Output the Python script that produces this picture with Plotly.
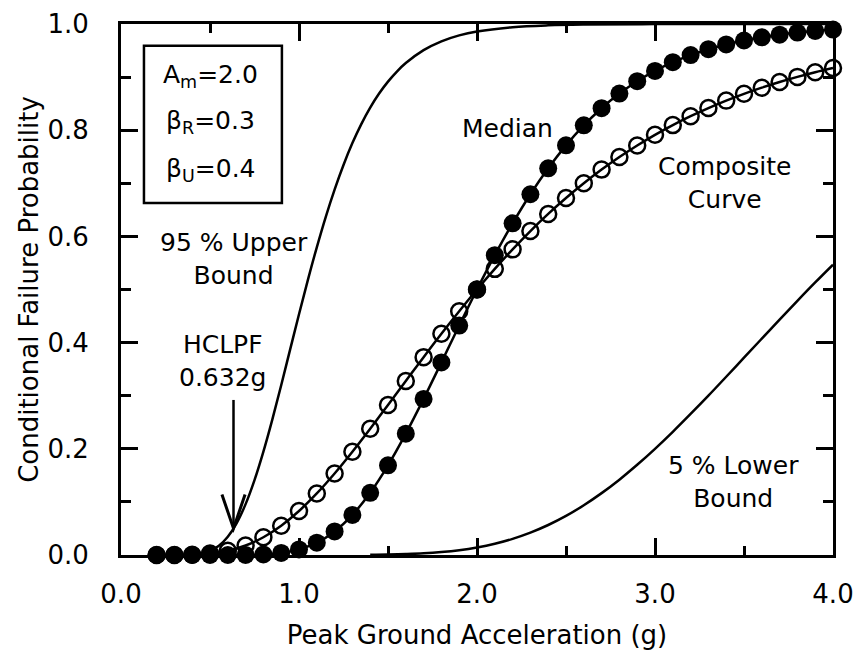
import plotly.graph_objects as go

# Peak ground acceleration (g) at which the marker curves are drawn
pga = [0.2, 0.3, 0.4, 0.5, 0.6, 0.7, 0.8, 0.9, 1.0, 1.1, 1.2, 1.3, 1.4, 1.5,
       1.6, 1.7, 1.8, 1.9, 2.0, 2.1, 2.2, 2.3, 2.4, 2.5, 2.6, 2.7, 2.8, 2.9,
       3.0, 3.1, 3.2, 3.3, 3.4, 3.5, 3.6, 3.7, 3.8, 3.9, 4.0]

median = [0.0, 0.0, 0.0, 0.0, 0.0, 0.0002, 0.0011, 0.0039, 0.0104, 0.0231,
          0.0443, 0.0755, 0.1172, 0.1688, 0.2285, 0.2940, 0.3627, 0.4321,
          0.5000, 0.5646, 0.6246, 0.6794, 0.7283, 0.7715, 0.8091, 0.8414,
          0.8690, 0.8923, 0.9117, 0.9280, 0.9414, 0.9525, 0.9615, 0.9689,
          0.9750, 0.9798, 0.9838, 0.9870, 0.9896]

composite = [0.0, 0.0001, 0.0006, 0.0028, 0.0080, 0.0179, 0.0334, 0.0551,
             0.0828, 0.1159, 0.1535, 0.1945, 0.2378, 0.2825, 0.3277, 0.3726,
             0.4166, 0.4591, 0.5000, 0.5389, 0.5756, 0.6101, 0.6423, 0.6723,
             0.7001, 0.7258, 0.7495, 0.7713, 0.7913, 0.8096, 0.8264, 0.8417,
             0.8557, 0.8685, 0.8801, 0.8907, 0.9004, 0.9092, 0.9172]

upper_x = [0.4, 0.45, 0.5, 0.55, 0.6, 0.65, 0.7, 0.75, 0.8, 0.85, 0.9, 0.95,
           1.0, 1.05, 1.1, 1.15, 1.2, 1.25, 1.3, 1.35, 1.4, 1.45, 1.5, 1.55,
           1.6, 1.7, 1.8, 1.9, 2.0, 2.2, 2.4, 2.6, 3.0, 3.5, 4.0]
upper_y = [0.0008, 0.0027, 0.0076, 0.0174, 0.0344, 0.0602, 0.0958, 0.1410,
           0.1947, 0.2550, 0.3198, 0.3867, 0.4534, 0.5182, 0.5795, 0.6365,
           0.6882, 0.7346, 0.7757, 0.8115, 0.8425, 0.8690, 0.8915, 0.9105,
           0.9264, 0.9507, 0.9673, 0.9785, 0.9859, 0.9940, 0.9975, 0.9989,
           0.9998, 1.0, 1.0]

lower_x = [1.4, 1.5, 1.6, 1.7, 1.8, 1.9, 2.0, 2.1, 2.2, 2.3, 2.4, 2.5, 2.6,
           2.7, 2.8, 2.9, 3.0, 3.1, 3.2, 3.3, 3.4, 3.5, 3.6, 3.7, 3.8, 3.9, 4.0]
lower_y = [0.0004, 0.0008, 0.0017, 0.0031, 0.0055, 0.0090, 0.0141, 0.0211,
           0.0304, 0.0421, 0.0565, 0.0736, 0.0937, 0.1165, 0.1419, 0.1699,
           0.2000, 0.2320, 0.2656, 0.3001, 0.3357, 0.3716, 0.4075, 0.4433,
           0.4786, 0.5132, 0.5467]

x_ticks = [0.0, 1.0, 2.0, 3.0, 4.0]
x_tick_text = ["0.0", "1.0", "2.0", "3.0", "4.0"]
y_ticks = [0.0, 0.2, 0.4, 0.6, 0.8, 1.0]
y_tick_text = ["0.0", "0.2", "0.4", "0.6", "0.8", "1.0"]

hclpf = 0.632
hclpf_prob = 0.05

FONT = "DejaVu Sans"
BLACK = "#000000"
LW = 2.5

fig = go.Figure()

fig.add_trace(go.Scatter(x=upper_x, y=upper_y, mode="lines",
                         line=dict(color=BLACK, width=LW, shape="spline"),
                         cliponaxis=False, showlegend=False))
fig.add_trace(go.Scatter(x=lower_x, y=lower_y, mode="lines",
                         line=dict(color=BLACK, width=LW, shape="spline"),
                         cliponaxis=False, showlegend=False))
fig.add_trace(go.Scatter(x=pga, y=composite, mode="lines+markers",
                         line=dict(color=BLACK, width=LW, shape="spline"),
                         marker=dict(symbol="circle-open", size=16,
                                     color=BLACK, line=dict(width=2.5, color=BLACK)),
                         cliponaxis=False, showlegend=False))
fig.add_trace(go.Scatter(x=pga, y=median, mode="lines+markers",
                         line=dict(color=BLACK, width=LW, shape="spline"),
                         marker=dict(symbol="circle", size=18, color=BLACK),
                         cliponaxis=False, showlegend=False))

# Parameter box
fig.add_shape(type="rect", xref="x", yref="y", x0=0.129, x1=0.904,
              y0=0.663, y1=0.959, line=dict(color=BLACK, width=2.5),
              fillcolor="rgba(0,0,0,0)")

ann_font = dict(family=FONT, size=25, color=BLACK)
box_lines = [("A<sub>m</sub>=2.0", 0.903), ("β<sub>R</sub>=0.3", 0.815),
             ("β<sub>U</sub>=0.4", 0.725)]
for txt, yy in box_lines:
    fig.add_annotation(x=0.503, y=yy, xref="x", yref="y", text=txt,
                       showarrow=False, font=ann_font,
                       xanchor="center", yanchor="middle")

labels = [
    ("95 % Upper<br>Bound", 0.635, 0.557),
    ("HCLPF<br>0.632g", 0.573, 0.366),
    ("Median", 2.169, 0.804),
    ("Composite<br>Curve", 3.390, 0.700),
    ("5 % Lower<br>Bound", 3.441, 0.1375),
]
for txt, xx, yy in labels:
    fig.add_annotation(x=xx, y=yy, xref="x", yref="y", text=txt,
                       showarrow=False, font=ann_font, align="center",
                       xanchor="center", yanchor="middle")

# HCLPF arrow: shaft and a narrow open V head ending at (hclpf, hclpf_prob)
shaft_top = 0.292
head_dx = 0.065
head_dy = 0.064
fig.add_shape(type="line", xref="x", yref="y", x0=hclpf, x1=hclpf,
              y0=shaft_top, y1=hclpf_prob, line=dict(color=BLACK, width=2.5))
fig.add_shape(type="path", xref="x", yref="y",
              path=(f"M {hclpf - head_dx},{hclpf_prob + head_dy} "
                    f"L {hclpf},{hclpf_prob} "
                    f"L {hclpf + head_dx},{hclpf_prob + head_dy}"),
              line=dict(color=BLACK, width=3))

axis_common = dict(showgrid=False, zeroline=False, showline=True,
                   linecolor=BLACK, linewidth=3, mirror="ticks",
                   ticks="inside", tickcolor=BLACK, tickwidth=2.5, ticklen=17,
                   tickfont=dict(family=FONT, size=26, color=BLACK))

fig.update_xaxes(range=[0, 4], tickvals=x_ticks, ticktext=x_tick_text,
                 minor=dict(dtick=0.5, ticks="inside", ticklen=9,
                            tickwidth=2.5, tickcolor=BLACK),
                 title=dict(text="Peak Ground Acceleration (g)",
                            font=dict(family=FONT, size=26, color=BLACK),
                            standoff=18),
                 ticklabelstandoff=14,
                 **axis_common)
fig.update_yaxes(range=[0, 1], tickvals=y_ticks, ticktext=y_tick_text,
                 minor=dict(dtick=0.1, ticks="inside", ticklen=10,
                            tickwidth=2.5, tickcolor=BLACK),
                 title=dict(text="Conditional Failure Probability",
                            font=dict(family=FONT, size=26, color=BLACK),
                            standoff=2),
                 ticklabelstandoff=24,
                 **axis_common)

fig.update_layout(width=861, height=666, template="none",
                  margin=dict(l=121, r=28, t=24, b=111, autoexpand=False),
                  paper_bgcolor="white", plot_bgcolor="white",
                  font=dict(family=FONT, color=BLACK), showlegend=False)

fig.write_html("out.html")
